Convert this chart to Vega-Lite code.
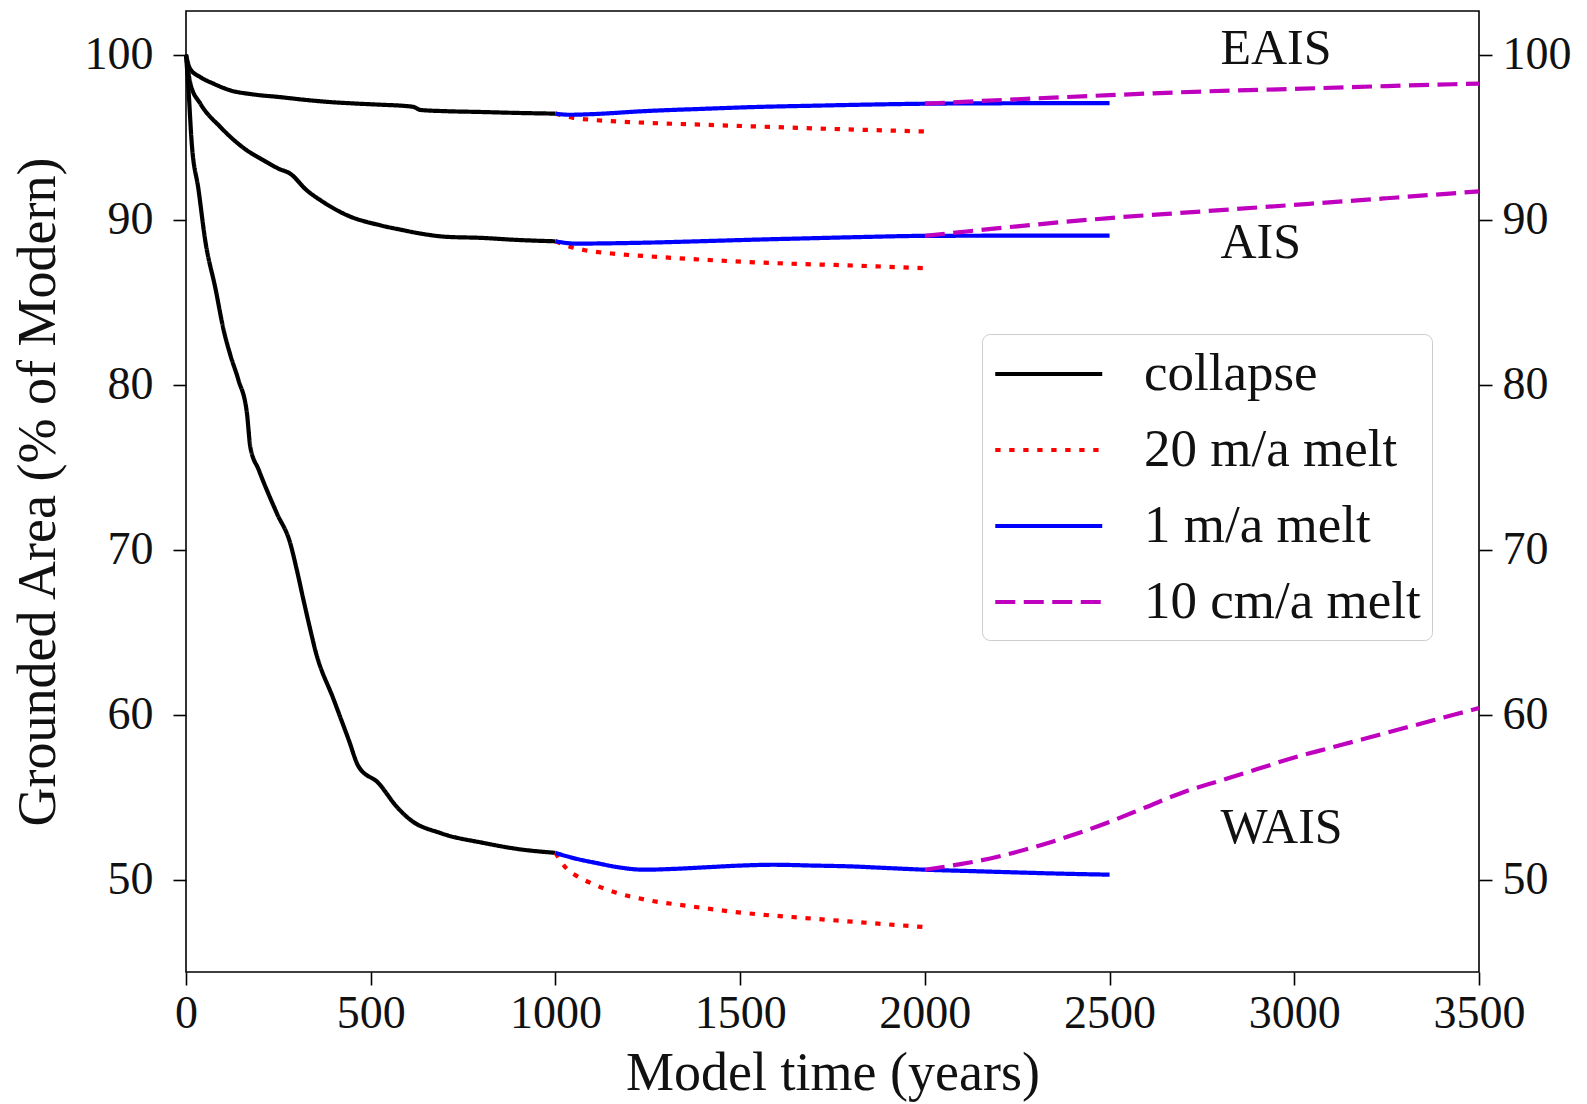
{
  "$schema": "https://vega.github.io/schema/vega-lite/v6.json",
  "width": 1293,
  "height": 961,
  "autosize": {"type": "none"},
  "padding": {"left": 186, "top": 11, "right": 108, "bottom": 132},
  "background": "white",
  "config": {
    "font": "Liberation Serif",
    "view": {"stroke": "black", "strokeWidth": 1.6},
    "axis": {
      "domain": false,
      "grid": false,
      "ticks": true,
      "tickSize": 13,
      "tickWidth": 1.6,
      "tickColor": "black",
      "labelFontSize": 46,
      "labelColor": "#111111",
      "labelFont": "Liberation Serif",
      "labelFlush": false,
      "labelOverlap": false,
      "titleFont": "Liberation Serif",
      "titleFontSize": 54,
      "titleFontWeight": "normal",
      "titleColor": "#111111"
    },
    "axisX": {"labelPadding": 6, "titlePadding": 10},
    "axisY": {"labelPadding": 20, "titlePadding": 19},
    "legend": {
      "orient": "none",
      "legendX": 796,
      "legendY": 323,
      "symbolType": "M-1,0H3",
      "symbolSize": 2862,
      "symbolStrokeWidth": 4.2,
      "labelFontSize": 53,
      "labelFont": "Liberation Serif",
      "labelColor": "#111111",
      "labelOffset": 93,
      "rowPadding": 20,
      "padding": 11,
      "strokeColor": "#cccccc",
      "fillColor": "white",
      "cornerRadius": 8,
      "labelLimit": 0
    }
  },
  "datasets": {
    "curves": [
      {"t": 0, "area": 100, "region": "EAIS", "scenario": "collapse"},
      {"t": 11, "area": 99.15, "region": "EAIS", "scenario": "collapse"},
      {"t": 39, "area": 98.64, "region": "EAIS", "scenario": "collapse"},
      {"t": 75, "area": 98.24, "region": "EAIS", "scenario": "collapse"},
      {"t": 120, "area": 97.84, "region": "EAIS", "scenario": "collapse"},
      {"t": 180, "area": 97.6, "region": "EAIS", "scenario": "collapse"},
      {"t": 255, "area": 97.43, "region": "EAIS", "scenario": "collapse"},
      {"t": 320, "area": 97.27, "region": "EAIS", "scenario": "collapse"},
      {"t": 391, "area": 97.13, "region": "EAIS", "scenario": "collapse"},
      {"t": 460, "area": 97.04, "region": "EAIS", "scenario": "collapse"},
      {"t": 526, "area": 96.97, "region": "EAIS", "scenario": "collapse"},
      {"t": 600, "area": 96.88, "region": "EAIS", "scenario": "collapse"},
      {"t": 617, "area": 96.83, "region": "EAIS", "scenario": "collapse"},
      {"t": 635, "area": 96.65, "region": "EAIS", "scenario": "collapse"},
      {"t": 700, "area": 96.58, "region": "EAIS", "scenario": "collapse"},
      {"t": 797, "area": 96.53, "region": "EAIS", "scenario": "collapse"},
      {"t": 900, "area": 96.47, "region": "EAIS", "scenario": "collapse"},
      {"t": 1000, "area": 96.43, "region": "EAIS", "scenario": "collapse"},

      {"t": 0, "area": 100, "region": "AIS", "scenario": "collapse"},
      {"t": 12, "area": 98.24, "region": "AIS", "scenario": "collapse"},
      {"t": 39, "area": 97.03, "region": "AIS", "scenario": "collapse"},
      {"t": 93, "area": 95.62, "region": "AIS", "scenario": "collapse"},
      {"t": 165, "area": 94.2, "region": "AIS", "scenario": "collapse"},
      {"t": 210, "area": 93.6, "region": "AIS", "scenario": "collapse"},
      {"t": 250, "area": 93.1, "region": "AIS", "scenario": "collapse"},
      {"t": 282, "area": 92.79, "region": "AIS", "scenario": "collapse"},
      {"t": 327, "area": 91.78, "region": "AIS", "scenario": "collapse"},
      {"t": 364, "area": 91.18, "region": "AIS", "scenario": "collapse"},
      {"t": 436, "area": 90.27, "region": "AIS", "scenario": "collapse"},
      {"t": 526, "area": 89.66, "region": "AIS", "scenario": "collapse"},
      {"t": 580, "area": 89.4, "region": "AIS", "scenario": "collapse"},
      {"t": 635, "area": 89.16, "region": "AIS", "scenario": "collapse"},
      {"t": 707, "area": 88.96, "region": "AIS", "scenario": "collapse"},
      {"t": 797, "area": 88.9, "region": "AIS", "scenario": "collapse"},
      {"t": 900, "area": 88.77, "region": "AIS", "scenario": "collapse"},
      {"t": 1000, "area": 88.69, "region": "AIS", "scenario": "collapse"},

      {"t": 0, "area": 100, "region": "WAIS", "scenario": "collapse"},
      {"t": 7, "area": 97.8, "region": "WAIS", "scenario": "collapse"},
      {"t": 15, "area": 94.8, "region": "WAIS", "scenario": "collapse"},
      {"t": 34, "area": 91.8, "region": "WAIS", "scenario": "collapse"},
      {"t": 52, "area": 88.75, "region": "WAIS", "scenario": "collapse"},
      {"t": 80, "area": 85.8, "region": "WAIS", "scenario": "collapse"},
      {"t": 102, "area": 83.3, "region": "WAIS", "scenario": "collapse"},
      {"t": 120, "area": 81.8, "region": "WAIS", "scenario": "collapse"},
      {"t": 142, "area": 80.28, "region": "WAIS", "scenario": "collapse"},
      {"t": 165, "area": 78.26, "region": "WAIS", "scenario": "collapse"},
      {"t": 174, "area": 76.24, "region": "WAIS", "scenario": "collapse"},
      {"t": 197, "area": 74.83, "region": "WAIS", "scenario": "collapse"},
      {"t": 246, "area": 72.2, "region": "WAIS", "scenario": "collapse"},
      {"t": 282, "area": 70.4, "region": "WAIS", "scenario": "collapse"},
      {"t": 300, "area": 68.77, "region": "WAIS", "scenario": "collapse"},
      {"t": 318, "area": 66.95, "region": "WAIS", "scenario": "collapse"},
      {"t": 337, "area": 65.1, "region": "WAIS", "scenario": "collapse"},
      {"t": 350, "area": 63.9, "region": "WAIS", "scenario": "collapse"},
      {"t": 400, "area": 60.9, "region": "WAIS", "scenario": "collapse"},
      {"t": 440, "area": 58.5, "region": "WAIS", "scenario": "collapse"},
      {"t": 467, "area": 56.86, "region": "WAIS", "scenario": "collapse"},
      {"t": 521, "area": 55.85, "region": "WAIS", "scenario": "collapse"},
      {"t": 571, "area": 54.4, "region": "WAIS", "scenario": "collapse"},
      {"t": 607, "area": 53.63, "region": "WAIS", "scenario": "collapse"},
      {"t": 689, "area": 52.82, "region": "WAIS", "scenario": "collapse"},
      {"t": 806, "area": 52.22, "region": "WAIS", "scenario": "collapse"},
      {"t": 900, "area": 51.85, "region": "WAIS", "scenario": "collapse"},
      {"t": 1000, "area": 51.62, "region": "WAIS", "scenario": "collapse"},

      {"t": 1000, "area": 96.43, "region": "EAIS", "scenario": "20 m/a melt"},
      {"t": 1046, "area": 96.18, "region": "EAIS", "scenario": "20 m/a melt"},
      {"t": 1100, "area": 96.05, "region": "EAIS", "scenario": "20 m/a melt"},
      {"t": 1200, "area": 95.92, "region": "EAIS", "scenario": "20 m/a melt"},
      {"t": 1394, "area": 95.76, "region": "EAIS", "scenario": "20 m/a melt"},
      {"t": 1588, "area": 95.62, "region": "EAIS", "scenario": "20 m/a melt"},
      {"t": 1781, "area": 95.48, "region": "EAIS", "scenario": "20 m/a melt"},
      {"t": 2000, "area": 95.35, "region": "EAIS", "scenario": "20 m/a melt"},

      {"t": 1000, "area": 88.69, "region": "AIS", "scenario": "20 m/a melt"},
      {"t": 1042, "area": 88.35, "region": "AIS", "scenario": "20 m/a melt"},
      {"t": 1080, "area": 88.15, "region": "AIS", "scenario": "20 m/a melt"},
      {"t": 1153, "area": 87.95, "region": "AIS", "scenario": "20 m/a melt"},
      {"t": 1273, "area": 87.75, "region": "AIS", "scenario": "20 m/a melt"},
      {"t": 1428, "area": 87.54, "region": "AIS", "scenario": "20 m/a melt"},
      {"t": 1626, "area": 87.34, "region": "AIS", "scenario": "20 m/a melt"},
      {"t": 1781, "area": 87.24, "region": "AIS", "scenario": "20 m/a melt"},
      {"t": 2000, "area": 87.06, "region": "AIS", "scenario": "20 m/a melt"},

      {"t": 1000, "area": 51.62, "region": "WAIS", "scenario": "20 m/a melt"},
      {"t": 1029, "area": 50.7, "region": "WAIS", "scenario": "20 m/a melt"},
      {"t": 1059, "area": 50.2, "region": "WAIS", "scenario": "20 m/a melt"},
      {"t": 1095, "area": 49.8, "region": "WAIS", "scenario": "20 m/a melt"},
      {"t": 1165, "area": 49.2, "region": "WAIS", "scenario": "20 m/a melt"},
      {"t": 1240, "area": 48.8, "region": "WAIS", "scenario": "20 m/a melt"},
      {"t": 1360, "area": 48.4, "region": "WAIS", "scenario": "20 m/a melt"},
      {"t": 1510, "area": 47.98, "region": "WAIS", "scenario": "20 m/a melt"},
      {"t": 1671, "area": 47.68, "region": "WAIS", "scenario": "20 m/a melt"},
      {"t": 1821, "area": 47.42, "region": "WAIS", "scenario": "20 m/a melt"},
      {"t": 2000, "area": 47.12, "region": "WAIS", "scenario": "20 m/a melt"},

      {"t": 1000, "area": 96.43, "region": "EAIS", "scenario": "1 m/a melt"},
      {"t": 1037, "area": 96.36, "region": "EAIS", "scenario": "1 m/a melt"},
      {"t": 1100, "area": 96.4, "region": "EAIS", "scenario": "1 m/a melt"},
      {"t": 1249, "area": 96.59, "region": "EAIS", "scenario": "1 m/a melt"},
      {"t": 1400, "area": 96.72, "region": "EAIS", "scenario": "1 m/a melt"},
      {"t": 1540, "area": 96.83, "region": "EAIS", "scenario": "1 m/a melt"},
      {"t": 1700, "area": 96.91, "region": "EAIS", "scenario": "1 m/a melt"},
      {"t": 1830, "area": 96.97, "region": "EAIS", "scenario": "1 m/a melt"},
      {"t": 2000, "area": 97.03, "region": "EAIS", "scenario": "1 m/a melt"},
      {"t": 2250, "area": 97.06, "region": "EAIS", "scenario": "1 m/a melt"},
      {"t": 2500, "area": 97.07, "region": "EAIS", "scenario": "1 m/a melt"},

      {"t": 1000, "area": 88.69, "region": "AIS", "scenario": "1 m/a melt"},
      {"t": 1056, "area": 88.55, "region": "AIS", "scenario": "1 m/a melt"},
      {"t": 1150, "area": 88.57, "region": "AIS", "scenario": "1 m/a melt"},
      {"t": 1249, "area": 88.61, "region": "AIS", "scenario": "1 m/a melt"},
      {"t": 1400, "area": 88.7, "region": "AIS", "scenario": "1 m/a melt"},
      {"t": 1539, "area": 88.79, "region": "AIS", "scenario": "1 m/a melt"},
      {"t": 1700, "area": 88.88, "region": "AIS", "scenario": "1 m/a melt"},
      {"t": 1829, "area": 88.95, "region": "AIS", "scenario": "1 m/a melt"},
      {"t": 2000, "area": 89.02, "region": "AIS", "scenario": "1 m/a melt"},
      {"t": 2250, "area": 89.03, "region": "AIS", "scenario": "1 m/a melt"},
      {"t": 2500, "area": 89.03, "region": "AIS", "scenario": "1 m/a melt"},

      {"t": 1000, "area": 51.62, "region": "WAIS", "scenario": "1 m/a melt"},
      {"t": 1050, "area": 51.3, "region": "WAIS", "scenario": "1 m/a melt"},
      {"t": 1110, "area": 51.01, "region": "WAIS", "scenario": "1 m/a melt"},
      {"t": 1170, "area": 50.75, "region": "WAIS", "scenario": "1 m/a melt"},
      {"t": 1240, "area": 50.6, "region": "WAIS", "scenario": "1 m/a melt"},
      {"t": 1320, "area": 50.65, "region": "WAIS", "scenario": "1 m/a melt"},
      {"t": 1410, "area": 50.75, "region": "WAIS", "scenario": "1 m/a melt"},
      {"t": 1500, "area": 50.85, "region": "WAIS", "scenario": "1 m/a melt"},
      {"t": 1590, "area": 50.9, "region": "WAIS", "scenario": "1 m/a melt"},
      {"t": 1700, "area": 50.85, "region": "WAIS", "scenario": "1 m/a melt"},
      {"t": 1801, "area": 50.8, "region": "WAIS", "scenario": "1 m/a melt"},
      {"t": 1900, "area": 50.7, "region": "WAIS", "scenario": "1 m/a melt"},
      {"t": 2001, "area": 50.6, "region": "WAIS", "scenario": "1 m/a melt"},
      {"t": 2120, "area": 50.52, "region": "WAIS", "scenario": "1 m/a melt"},
      {"t": 2241, "area": 50.44, "region": "WAIS", "scenario": "1 m/a melt"},
      {"t": 2370, "area": 50.36, "region": "WAIS", "scenario": "1 m/a melt"},
      {"t": 2500, "area": 50.3, "region": "WAIS", "scenario": "1 m/a melt"},

      {"t": 2000, "area": 97.03, "region": "EAIS", "scenario": "10 cm/a melt"},
      {"t": 2250, "area": 97.3, "region": "EAIS", "scenario": "10 cm/a melt"},
      {"t": 2500, "area": 97.55, "region": "EAIS", "scenario": "10 cm/a melt"},
      {"t": 2750, "area": 97.77, "region": "EAIS", "scenario": "10 cm/a melt"},
      {"t": 3000, "area": 97.93, "region": "EAIS", "scenario": "10 cm/a melt"},
      {"t": 3250, "area": 98.1, "region": "EAIS", "scenario": "10 cm/a melt"},
      {"t": 3500, "area": 98.25, "region": "EAIS", "scenario": "10 cm/a melt"},

      {"t": 2000, "area": 89.02, "region": "AIS", "scenario": "10 cm/a melt"},
      {"t": 2250, "area": 89.6, "region": "AIS", "scenario": "10 cm/a melt"},
      {"t": 2500, "area": 90.1, "region": "AIS", "scenario": "10 cm/a melt"},
      {"t": 2750, "area": 90.5, "region": "AIS", "scenario": "10 cm/a melt"},
      {"t": 3000, "area": 90.9, "region": "AIS", "scenario": "10 cm/a melt"},
      {"t": 3250, "area": 91.3, "region": "AIS", "scenario": "10 cm/a melt"},
      {"t": 3500, "area": 91.72, "region": "AIS", "scenario": "10 cm/a melt"},

      {"t": 2000, "area": 50.6, "region": "WAIS", "scenario": "10 cm/a melt"},
      {"t": 2100, "area": 50.95, "region": "WAIS", "scenario": "10 cm/a melt"},
      {"t": 2200, "area": 51.4, "region": "WAIS", "scenario": "10 cm/a melt"},
      {"t": 2300, "area": 52.0, "region": "WAIS", "scenario": "10 cm/a melt"},
      {"t": 2400, "area": 52.7, "region": "WAIS", "scenario": "10 cm/a melt"},
      {"t": 2500, "area": 53.5, "region": "WAIS", "scenario": "10 cm/a melt"},
      {"t": 2600, "area": 54.4, "region": "WAIS", "scenario": "10 cm/a melt"},
      {"t": 2700, "area": 55.3, "region": "WAIS", "scenario": "10 cm/a melt"},
      {"t": 2800, "area": 56.0, "region": "WAIS", "scenario": "10 cm/a melt"},
      {"t": 2900, "area": 56.7, "region": "WAIS", "scenario": "10 cm/a melt"},
      {"t": 3000, "area": 57.4, "region": "WAIS", "scenario": "10 cm/a melt"},
      {"t": 3100, "area": 58.0, "region": "WAIS", "scenario": "10 cm/a melt"},
      {"t": 3200, "area": 58.6, "region": "WAIS", "scenario": "10 cm/a melt"},
      {"t": 3300, "area": 59.2, "region": "WAIS", "scenario": "10 cm/a melt"},
      {"t": 3400, "area": 59.8, "region": "WAIS", "scenario": "10 cm/a melt"},
      {"t": 3500, "area": 60.4, "region": "WAIS", "scenario": "10 cm/a melt"}
    ],
    "labels": [
      {"t": 2800, "area": 99.43, "name": "EAIS"},
      {"t": 2800, "area": 87.66, "name": "AIS"},
      {"t": 2800, "area": 52.2, "name": "WAIS"}
    ]
  },
  "layer": [
    {
      "data": {"name": "curves"},
      "mark": {"type": "line", "strokeWidth": 4.2, "strokeCap": "butt", "interpolate": "monotone"},
      "encoding": {
        "x": {
          "field": "t", "type": "quantitative",
          "scale": {"domain": [0, 3500], "nice": false, "zero": false},
          "axis": {"values": [0, 500, 1000, 1500, 2000, 2500, 3000, 3500], "format": "d", "title": "Model time (years)"}
        },
        "y": {
          "field": "area", "type": "quantitative",
          "scale": {"domain": [44.4, 102.65], "nice": false, "zero": false},
          "axis": {"values": [50, 60, 70, 80, 90, 100], "title": "Grounded Area (% of Modern)", "orient": "left"}
        },
        "color": {
          "field": "scenario", "type": "nominal",
          "scale": {
            "domain": ["collapse", "20 m/a melt", "1 m/a melt", "10 cm/a melt"],
            "range": ["#000000", "#ff0000", "#0000ff", "#bf00bf"]
          },
          "legend": {"title": null}
        },
        "strokeDash": {
          "field": "scenario", "type": "nominal",
          "scale": {
            "domain": ["collapse", "20 m/a melt", "1 m/a melt", "10 cm/a melt"],
            "range": [[1, 0], [5.3, 8.7], [1, 0], [20, 8.5]]
          },
          "legend": {"title": null}
        },
        "detail": {"field": "region", "type": "nominal"}
      }
    },
    {
      "data": {"name": "labels"},
      "mark": {"type": "text", "align": "left", "baseline": "alphabetic", "fontSize": 50, "font": "Liberation Serif", "color": "#111111"},
      "encoding": {
        "x": {"field": "t", "type": "quantitative", "title": "Model time (years)"},
        "y": {
          "field": "area", "type": "quantitative",
          "axis": {"values": [50, 60, 70, 80, 90, 100], "title": null, "orient": "right", "labelPadding": 10}
        },
        "text": {"field": "name", "type": "nominal"}
      }
    }
  ],
  "resolve": {"axis": {"y": "independent"}}
}
